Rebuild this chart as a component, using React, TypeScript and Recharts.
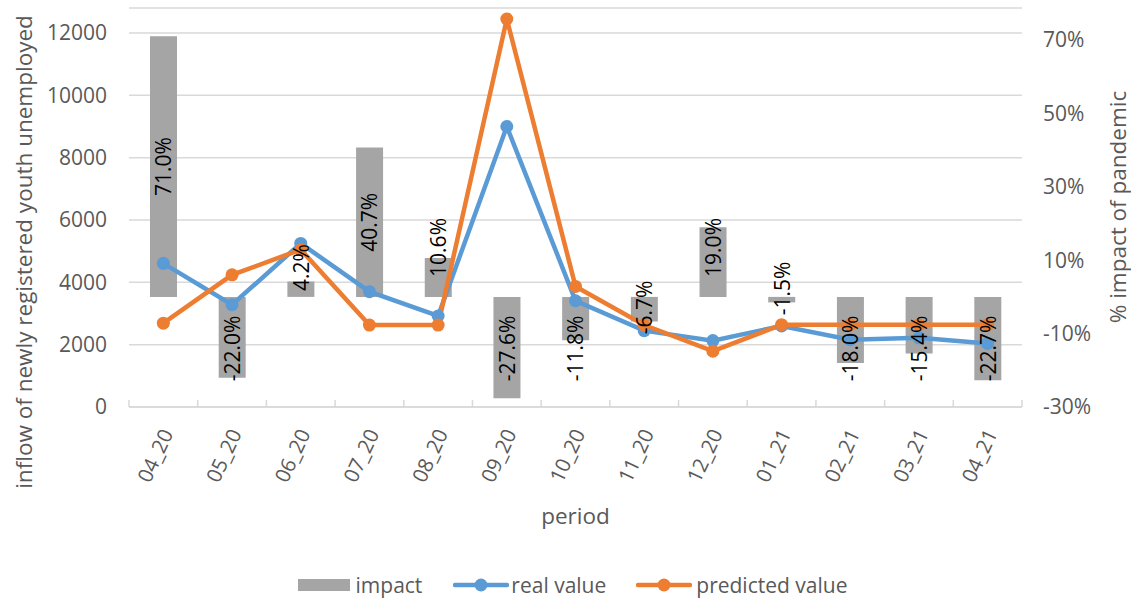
import {
  ComposedChart,
  Bar,
  Line,
  XAxis,
  YAxis,
  CartesianGrid,
  Legend,
  LabelList,
} from "recharts";

const periods = [
  "04_20", "05_20", "06_20", "07_20", "08_20", "09_20", "10_20",
  "11_20", "12_20", "01_21", "02_21", "03_21", "04_21",
];
const impact = [
  0.71, -0.22, 0.042, 0.407, 0.106, -0.276, -0.118, -0.067, 0.19, -0.015,
  -0.18, -0.154, -0.227,
];
const realValue = [
  4610, 3280, 5250, 3700, 2920, 9000, 3410, 2450, 2130, 2600, 2160, 2220, 2040,
];
const predictedValue = [
  2690, 4240, 5050, 2630, 2630, 12450, 3870, 2630, 1790, 2640, 2640, 2640, 2640,
];
const leftTicks = [0, 2000, 4000, 6000, 8000, 10000, 12000];
const rightTicks = [-0.3, -0.1, 0.1, 0.3, 0.5, 0.7];

const data = periods.map((period, i) => ({
  period,
  impact: impact[i],
  real: realValue[i],
  predicted: predictedValue[i],
}));

const W = 1131;
const H = 598;
const PLOT_LEFT = 129;
const PLOT_RIGHT = 1022;
const PLOT_TOP = 8;
const PLOT_BOTTOM = 407;
const LEGEND_H = 26;
// 12000 sits at y=33, 70% at y=40 and -30% on the bottom line
const LEFT_MAX = (12000 * (PLOT_BOTTOM - PLOT_TOP)) / (PLOT_BOTTOM - 33);
const RIGHT_MIN = -0.3;
const RIGHT_MAX = RIGHT_MIN + (PLOT_BOTTOM - PLOT_TOP) / (PLOT_BOTTOM - 40);
const PX_PER_RIGHT = (PLOT_BOTTOM - PLOT_TOP) / (RIGHT_MAX - RIGHT_MIN);
const ZERO_Y = PLOT_BOTTOM + RIGHT_MIN * PX_PER_RIGHT;
const BAND = (PLOT_RIGHT - PLOT_LEFT) / periods.length;

const FONT = "'Open Sans', sans-serif";
const GREY_TEXT = "#595959";
const BLUE = "#5B9BD5";
const ORANGE = "#ED7D31";
const BAR_GREY = "#A5A5A5";
const LABEL_SIZE = 21;

const XTick = (props: any) => {
  const { x, y, payload, index } = props;
  const last = index === periods.length - 1;
  return (
    <g>
      <line x1={x - BAND / 2} x2={x - BAND / 2} y1={y - 7} y2={y} stroke="#D9D9D9" strokeWidth={1.5} />
      {last && (
        <line x1={x + BAND / 2} x2={x + BAND / 2} y1={y - 7} y2={y} stroke="#D9D9D9" strokeWidth={1.5} />
      )}
      <text
        x={x + 3}
        y={y + 23}
        transform={`rotate(-65, ${x + 3}, ${y + 23})`}
        textAnchor="end"
        dominantBaseline="central"
        fill={GREY_TEXT}
        fontSize={20.5}
        fontFamily={FONT}
      >
        {payload.value}
      </text>
    </g>
  );
};

const impactLabel = (props: any) => {
  const { x, y, value } = props;
  const text = `${(value * 100).toFixed(1)}%`;
  const half = text.length * 0.29 * LABEL_SIZE;
  let cy = (y + ZERO_Y) / 2;
  if (Math.abs(value) < 0.08) {
    cy = y - 14;
  } else if (value > 0) {
    cy = Math.min(cy, ZERO_Y - 19 - half);
  } else {
    cy = Math.max(cy, ZERO_Y + 15 + half);
  }
  return (
    <text
      x={x}
      y={cy}
      transform={`rotate(-90, ${x}, ${cy})`}
      textAnchor="middle"
      dominantBaseline="central"
      fill="#000"
      fontSize={LABEL_SIZE}
      fontFamily={FONT}
    >
      {text}
    </text>
  );
};

const titleStyle = { fill: GREY_TEXT, fontSize: 22.5, fontFamily: FONT };

const leftTitle = () => (
  <text x={23} y={252} transform="rotate(-90, 23, 252)" textAnchor="middle" dominantBaseline="central" {...titleStyle}>
    inflow of newly registered youth unemployed
  </text>
);

const rightTitle = () => (
  <text x={1117} y={207} transform="rotate(-90, 1117, 207)" textAnchor="middle" dominantBaseline="central" {...titleStyle}>
    % impact of pandemic
  </text>
);

const bottomTitle = () => (
  <text x={(PLOT_LEFT + PLOT_RIGHT) / 2} y={515} textAnchor="middle" dominantBaseline="central" {...titleStyle}>
    period
  </text>
);

const LineIcon = ({ color }: { color: string }) => (
  <svg width={56} height={14}>
    <line x1={2} x2={54} y1={7} y2={7} stroke={color} strokeWidth={4.5} strokeLinecap="round" />
    <circle cx={28} cy={7} r={6.5} fill={color} />
  </svg>
);

const renderLegend = () => (
  <div
    style={{
      display: "flex",
      justifyContent: "center",
      alignItems: "center",
      height: LEGEND_H,
      marginLeft: 14,
      fontFamily: FONT,
      fontSize: 21,
      color: GREY_TEXT,
    }}
  >
    <div style={{ width: 52, height: 12, background: BAR_GREY, marginRight: 6 }} />
    <span style={{ marginRight: 31 }}>impact</span>
    <LineIcon color={BLUE} />
    <span style={{ marginLeft: 2, marginRight: 30 }}>real value</span>
    <LineIcon color={ORANGE} />
    <span style={{ marginLeft: 4 }}>predicted value</span>
  </div>
);

export default function App() {
  return (
    <div style={{ position: "absolute", left: 0, top: 0, width: W, height: H, background: "#fff" }}>
      <ComposedChart
        width={W}
        height={H}
        data={data}
        margin={{ top: PLOT_TOP, right: 0, bottom: 0, left: 0 }}
        style={{ fontFamily: FONT }}
      >
        <CartesianGrid yAxisId="left" vertical={false} stroke="#D9D9D9" strokeWidth={1.5} />
        <XAxis
          dataKey="period"
          height={H - PLOT_BOTTOM - LEGEND_H}
          interval={0}
          tickLine={false}
          tickSize={0}
          tickMargin={0}
          axisLine={{ stroke: "#D9D9D9", strokeWidth: 1.5 }}
          tick={<XTick />}
          label={{ content: bottomTitle }}
        />
        <YAxis
          yAxisId="left"
          width={PLOT_LEFT}
          domain={[0, LEFT_MAX]}
          ticks={leftTicks}
          axisLine={false}
          tickLine={false}
          tickSize={0}
          tickMargin={22}
          tick={{ fill: GREY_TEXT, fontSize: 21, fontFamily: FONT }}
          label={{ content: leftTitle }}
        />
        <YAxis
          yAxisId="right"
          orientation="right"
          width={W - PLOT_RIGHT}
          domain={[RIGHT_MIN, RIGHT_MAX]}
          ticks={rightTicks}
          axisLine={false}
          tickLine={false}
          tickSize={0}
          tickMargin={21}
          tickFormatter={(v: number) => `${Math.round(v * 100)}%`}
          tick={{ fill: GREY_TEXT, fontSize: 21, fontFamily: FONT, textAnchor: "start" }}
          label={{ content: rightTitle }}
        />
        <Bar yAxisId="right" dataKey="impact" fill={BAR_GREY} barSize={27} isAnimationActive={false} />
        <Line
          yAxisId="left"
          dataKey="real"
          stroke={BLUE}
          strokeWidth={4.5}
          dot={{ r: 6.5, fill: BLUE, stroke: BLUE, strokeWidth: 0 }}
          activeDot={false}
          isAnimationActive={false}
        />
        <Line
          yAxisId="left"
          dataKey="predicted"
          stroke={ORANGE}
          strokeWidth={4.5}
          dot={{ r: 6.5, fill: ORANGE, stroke: ORANGE, strokeWidth: 0 }}
          activeDot={false}
          isAnimationActive={false}
        />
        <Line
          yAxisId="right"
          dataKey="impact"
          stroke="none"
          dot={false}
          activeDot={false}
          legendType="none"
          isAnimationActive={false}
        >
          <LabelList dataKey="impact" content={impactLabel} />
        </Line>
        <Legend verticalAlign="bottom" height={LEGEND_H} content={renderLegend} />
      </ComposedChart>
    </div>
  );
}
